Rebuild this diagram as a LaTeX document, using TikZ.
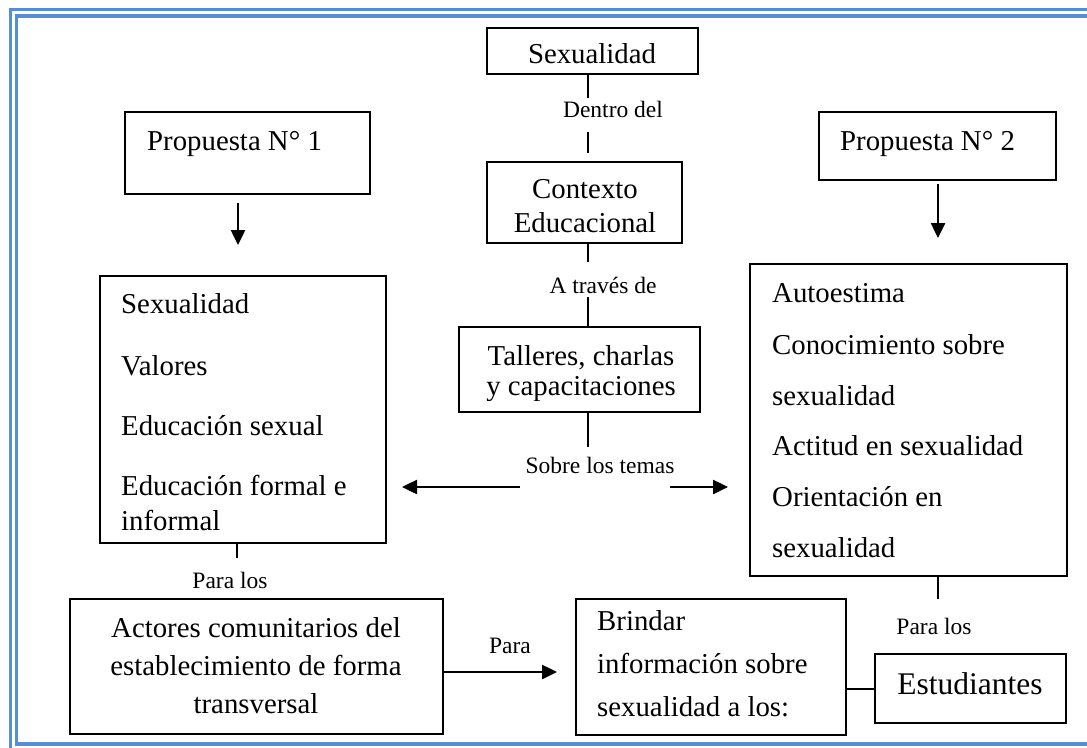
\documentclass[tikz,border=0pt]{standalone}
\usepackage{fontspec}
\setmainfont{Liberation Serif}
\usetikzlibrary{arrows.meta}
\definecolor{bord}{RGB}{85,142,213}
\begin{document}
\begin{tikzpicture}[x=1pt,y=-1pt,
  box/.style={draw=black,line width=1.9pt,inner sep=0pt,outer sep=0pt},
  txt/.style={inner sep=0pt,anchor=base,font=\fontsize{28.8}{34}\selectfont},
  ltxt/.style={txt,anchor=base west},
  lbl/.style={inner sep=0pt,anchor=base,font=\fontsize{23.5}{28}\selectfont},
  conn/.style={line width=1.9pt},
  arr/.style={line width=2.5pt,-{Triangle[length=15pt,width=14pt]}}]
\useasboundingbox (0,0) rectangle (1087,747);
% page border
\draw[bord,line width=3.2pt] (1095,9.5) -- (10.5,9.5) -- (10.5,760);
\draw[bord,line width=3.2pt] (1095,16) -- (16.5,16) -- (16.5,744) -- (1095,744);
% boxes
\node[box,minimum width=211pt,minimum height=46pt] (sexTop) at (592.5,51) {};
\node[box,minimum width=195pt,minimum height=81pt] (ctx) at (584.5,202.5) {};
\node[box,minimum width=241pt,minimum height=85pt] (tal) at (579.5,369.5) {};
\node[box,minimum width=245pt,minimum height=82pt] (p1) at (247.5,153) {};
\node[box,minimum width=237pt,minimum height=68pt] (p2) at (937.5,146) {};
\node[box,minimum width=286pt,minimum height=267pt] (listL) at (243,409.5) {};
\node[box,minimum width=317pt,minimum height=312pt] (listR) at (908.5,420) {};
\node[box,minimum width=373pt,minimum height=135pt] (act) at (256.5,666.5) {};
\node[box,minimum width=270pt,minimum height=136pt] (brin) at (711,667) {};
\node[box,minimum width=191pt,minimum height=69pt] (est) at (970.5,688.5) {};
% box texts
\node[txt] (tSex) at (592,63) {Sexualidad};
\node[txt] (tCtx1) at (585,198) {Contexto};
\node[txt] (tCtx2) at (585,232) {Educacional};
\node[txt] (tTal1) at (581,365) {Talleres, charlas};
\begin{scope}
\clip (459,327) rectangle (700,400);
\node[txt] (tTal2) at (581,395) {y capacitaciones};
\end{scope}
\node[ltxt] (tP1) at (147,150) {Propuesta N° 1};
\node[ltxt] (tP2) at (840,150) {Propuesta N° 2};
\node[ltxt] (tL1) at (121,313) {Sexualidad};
\node[ltxt] (tL2) at (121,375) {Valores};
\node[ltxt] (tL3) at (121,435) {Educación sexual};
\node[ltxt] (tL4) at (121,495) {Educación formal e};
\node[ltxt] (tL5) at (121,530) {informal};
\node[ltxt] (tR1) at (772,302) {Autoestima};
\node[ltxt] (tR2) at (772,354) {Conocimiento sobre};
\node[ltxt] (tR3) at (772,405) {sexualidad};
\node[ltxt] (tR4) at (772,455) {Actitud en sexualidad};
\node[ltxt] (tR5) at (772,506) {Orientación en};
\node[ltxt] (tR6) at (772,557) {sexualidad};
\node[txt] (tA1) at (256,637) {Actores comunitarios del};
\node[txt] (tA2) at (256,675) {establecimiento de forma};
\node[txt] (tA3) at (256,713) {transversal};
\node[ltxt] (tB1) at (597,630) {Brindar};
\node[ltxt] (tB2) at (597,673) {información sobre};
\node[ltxt] (tB3) at (597,716) {sexualidad a los:};
\node[txt,font=\fontsize{31.5}{36}\selectfont] (tEst) at (970,694) {Estudiantes};
% labels
\node[lbl] (lDentro) at (613,117) {Dentro del};
\node[lbl] (lTraves) at (603,293) {A través de};
\node[lbl] (lSobre) at (600,473) {Sobre los temas};
\node[lbl] (lParaL) at (230,588) {Para los};
\node[lbl] (lPara) at (510,653) {Para};
\node[lbl] (lParaR) at (934,634) {Para los};
% helper coordinates
\coordinate (cx) at (588,0);
\coordinate (p1x) at (238,0);
\coordinate (p2x) at (938,0);
\coordinate (lx) at (237,0);
\coordinate (rx) at (938,0);
\coordinate (sl) at (520,487);
\coordinate (sr) at (670,487);
\coordinate (py) at (0,672);
\coordinate (ey) at (0,689);
% connectors
\draw[conn,shorten >=64pt] (sexTop.south -| cx) -- (cx |- ctx.north);
\draw[conn,shorten <=58pt,shorten >=9pt] (sexTop.south -| cx) -- (cx |- ctx.north);
\draw[conn,shorten >=65pt] (ctx.south -| cx) -- (cx |- tal.north);
\draw[conn,shorten <=54pt] (ctx.south -| cx) -- (cx |- tal.north);
\draw[conn,shorten >=40pt] (tal.south -| cx) -- (cx |- sl);
\draw[arr,shorten >=16pt] (sl) -- (sl -| listL.east);
\draw[arr,shorten >=22pt] (sr) -- (sr -| listR.west);
\draw[arr,shorten <=9pt,shorten >=31pt] (p1.south -| p1x) -- (p1x |- listL.north);
\draw[arr,shorten <=4pt,shorten >=26pt] (p2.south -| p2x) -- (p2x |- listR.north);
\draw[conn,shorten >=41pt] (listL.south -| lx) -- (lx |- act.north);
\draw[conn] (listR.south -| rx) -- (rx |- brin.north);
\draw[arr,shorten >=19pt] (act.east |- py) -- (brin.west |- py);
\draw[conn] (brin.east |- ey) -- (est.west |- ey);
\end{tikzpicture}
\end{document}
